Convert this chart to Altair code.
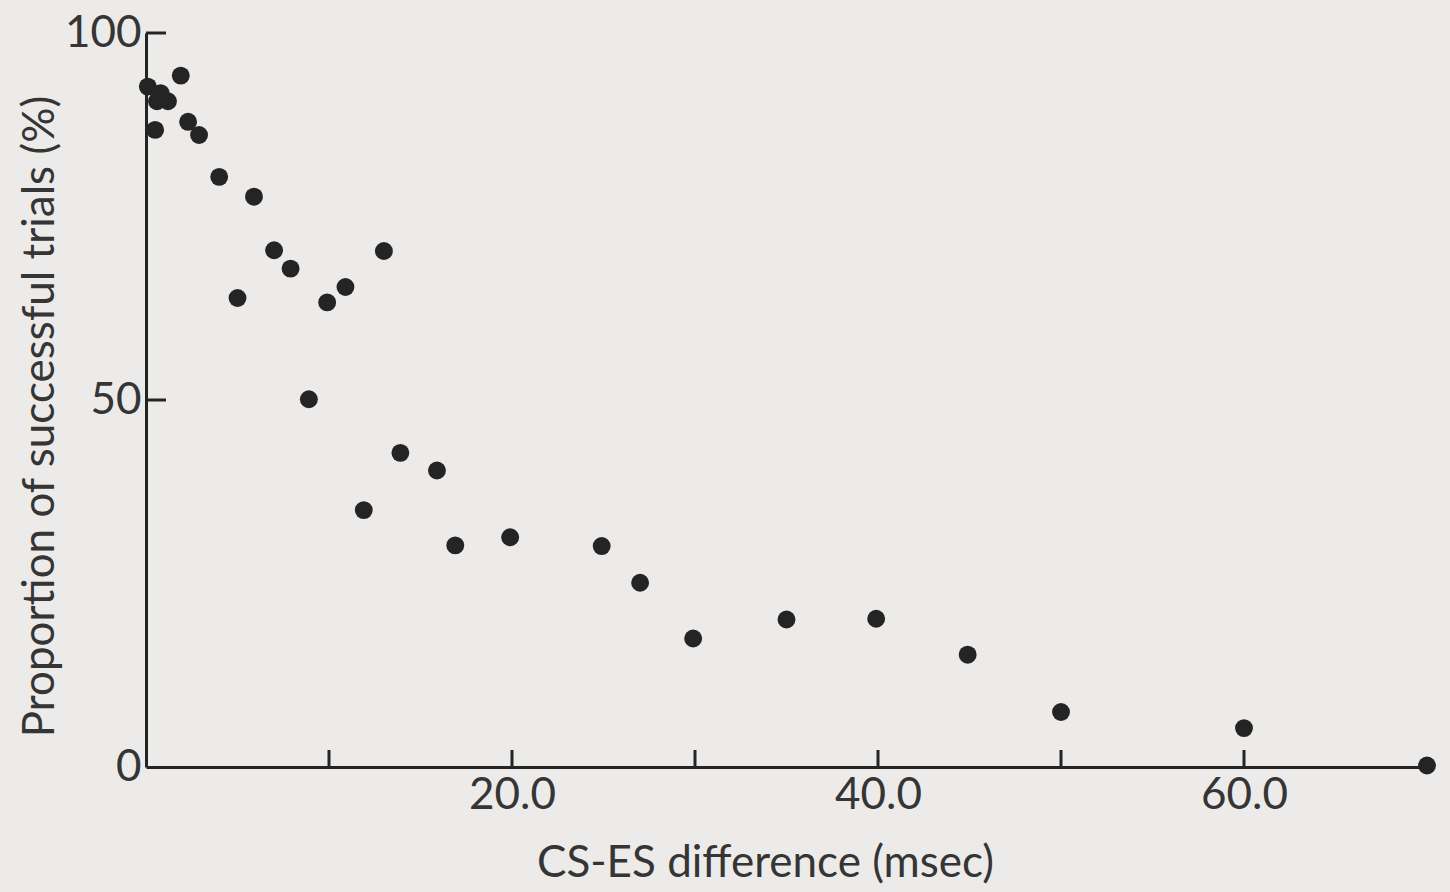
import altair as alt
import pandas as pd

# Delay between conditioning spike (CS) and electrical stimulus (ES), msec
delay_ms = [0.1, 0.8, 0.6, 1.2, 0.5, 1.9, 2.3, 2.9, 4.0, 5.9, 7.0, 7.9, 13.0,
            5.0, 9.9, 10.9, 8.9, 13.9, 15.9, 11.9, 16.9, 19.9, 24.9, 27.0,
            29.9, 35.0, 39.9, 44.9, 50.0, 60.0, 70.0]
# Proportion of trials in which the shock elicited a response, %
success_pct = [92.7, 91.8, 90.7, 90.7, 86.8, 94.2, 87.9, 86.1, 80.4, 77.7,
               70.4, 67.9, 70.3, 63.9, 63.3, 65.4, 50.1, 42.8, 40.4, 35.0,
               30.2, 31.3, 30.1, 25.1, 17.5, 20.1, 20.2, 15.3, 7.5, 5.3, 0.2]

x_tick_values = [10, 20, 30, 40, 50, 60]
x_label_values = [20, 40, 60]
y_tick_values = [50, 100]
y_label_values = [0, 50, 100]

df = pd.DataFrame({"delay": delay_ms, "pct": success_pct})
x_ticks = pd.DataFrame({"t": x_tick_values})
y_ticks = pd.DataFrame({"t": y_tick_values})

W, H = 1281, 734
FONT = "Lato"
INK = "#242424"
TEXT = "#353535"

x_scale = alt.Scale(domain=[0, 70], nice=False, zero=False)
y_scale = alt.Scale(domain=[0, 100], nice=False)

points = alt.Chart(df).mark_circle(size=320, opacity=1, color=INK).encode(
    x=alt.X("delay:Q", scale=x_scale,
            axis=alt.Axis(values=x_label_values, format=".1f",
                          title="CS-ES difference (msec)",
                          labelPadding=6, titleX=619, titleY=96,
                          titleBaseline="middle", titleAnchor="start",
                          titleAlign="center")),
    y=alt.Y("pct:Q", scale=y_scale,
            axis=alt.Axis(values=y_label_values, format="d",
                          title="Proportion of successful trials (%)",
                          labelPadding=5, titleX=-106, titleY=383,
                          titleBaseline="middle", titleAngle=-90,
                          titleAlign="center")),
)

# inward tick marks on the x axis
xt = alt.Chart(x_ticks).mark_rule(color=INK, strokeWidth=3, y2Offset=-17).encode(
    x=alt.X("t:Q", scale=x_scale),
    y=alt.datum(0, scale=y_scale),
    y2=alt.datum(0),
)

# inward tick marks on the y axis
yt = alt.Chart(y_ticks).mark_rule(color=INK, strokeWidth=3, x2Offset=20).encode(
    y=alt.Y("t:Q", scale=y_scale),
    x=alt.datum(0, scale=x_scale),
    x2=alt.datum(0),
)

chart = (
    alt.layer(xt, yt, points)
    .properties(width=W, height=H, background="#ecebe9",
                padding={"left": 146, "top": 33, "right": 23, "bottom": 125},
                autosize=alt.AutoSizeParams(type="none"))
    .configure_view(stroke=None)
    .configure_axis(
        grid=False, ticks=False, domainColor=INK, domainWidth=3,
        labelFont=FONT, labelFontSize=44, labelColor=TEXT,
        titleFont=FONT, titleFontSize=44, titleColor=TEXT,
        titleFontWeight="normal",
    )
)

chart.save("out.html", embed_options={"renderer": "svg", "actions": False})
